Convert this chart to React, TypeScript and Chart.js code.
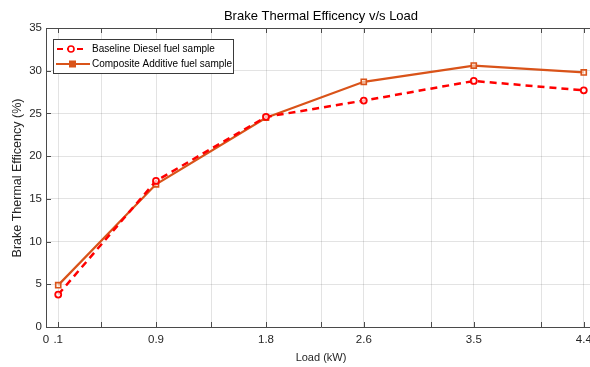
import React, { useEffect, useRef } from "react";
import { Chart, registerables } from "chart.js";

Chart.register(...registerables);

// ---- Data ----
const LOADS = [0.1, 0.9, 1.8, 2.6, 3.5, 4.4];
const BASELINE = [3.8, 17.1, 24.6, 26.5, 28.8, 27.7];
const COMPOSITE = [4.9, 16.7, 24.5, 28.7, 30.6, 29.8];
const X_TICKS = [0, 0.1, 0.45, 0.9, 1.35, 1.8, 2.25, 2.6, 3.15, 3.5, 4.05, 4.4];
const X_TICK_LABELS = ["0", ".1", "", "0.9", "", "1.8", "", "2.6", "", "3.5", "", "4.4"];
const Y_TICKS = [0, 5, 10, 15, 20, 25, 30, 35];
const SERIES_NAMES = ["Baseline Diesel fuel sample", "Composite Additive fuel sample"];
const TITLE = "Brake Thermal Efficency v/s Load";
const X_TITLE = "Load (kW)";
const Y_TITLE = "Brake Thermal Efficency (%)";

const FONT = "'Liberation Sans', Arial, Helvetica, sans-serif";
const AXIS_COLOR = "#4a4a4a";
const TEXT_COLOR = "#262626";
const GRID_COLOR = "rgba(38,38,38,0.13)";
const RED = "#ff0000";
const ORANGE = "#d95319";

const CANVAS_W = 620;

const framePlugin = {
  id: "frame",
  afterDraw(chart: any) {
    const { ctx, chartArea, scales } = chart;
    const { left, top, right, bottom } = chartArea;
    const x = scales.x;
    const y = scales.y;
    ctx.save();
    // top border
    ctx.strokeStyle = AXIS_COLOR;
    ctx.lineWidth = 1;
    ctx.beginPath();
    ctx.moveTo(left, top + 0.5);
    ctx.lineTo(right, top + 0.5);
    ctx.stroke();
    // inward tick marks
    ctx.beginPath();
    X_TICKS.forEach((v) => {
      const px = Math.round(x.getPixelForValue(v)) + 0.5;
      ctx.moveTo(px, bottom);
      ctx.lineTo(px, bottom - 5);
      ctx.moveTo(px, top);
      ctx.lineTo(px, top + 5);
    });
    Y_TICKS.forEach((v) => {
      const py = Math.round(y.getPixelForValue(v)) + 0.5;
      ctx.moveTo(left, py);
      ctx.lineTo(left + 5, py);
    });
    ctx.stroke();

    // legend
    const lx = 53, ly = 39, lw = 180, lh = 34;
    ctx.fillStyle = "#ffffff";
    ctx.fillRect(lx, ly, lw, lh);
    ctx.strokeStyle = "#3a3a3a";
    ctx.lineWidth = 1;
    ctx.strokeRect(lx + 0.5, ly + 0.5, lw, lh);
    const rows = [
      { y: 49, color: RED, dash: [6, 4], marker: "circle", x1: 57, x2: 83 },
      { y: 64, color: ORANGE, dash: [], marker: "rect", x1: 56, x2: 90 },
    ];
    rows.forEach((r, i) => {
      ctx.strokeStyle = r.color;
      ctx.lineWidth = 2;
      ctx.setLineDash(r.dash);
      ctx.beginPath();
      ctx.moveTo(r.x1, r.y);
      ctx.lineTo(r.x2, r.y);
      ctx.stroke();
      ctx.setLineDash([]);
      ctx.lineWidth = 1.6;
      if (r.marker === "circle") {
        ctx.fillStyle = "#fff";
        ctx.beginPath();
        ctx.arc(71, r.y, 3, 0, Math.PI * 2);
        ctx.fill();
        ctx.stroke();
      } else {
        ctx.fillStyle = ORANGE;
        ctx.fillRect(69, r.y - 3.5, 7, 7);
      }
      ctx.fillStyle = "#000";
      ctx.font = `10px ${FONT}`;
      ctx.textAlign = "left";
      ctx.textBaseline = "middle";
      ctx.fillText(SERIES_NAMES[i], 92, r.y);
    });

    // titles
    ctx.fillStyle = "#000";
    ctx.font = `13px ${FONT}`;
    ctx.textAlign = "center";
    ctx.textBaseline = "middle";
    ctx.fillText(TITLE, 321, 16);
    ctx.fillStyle = TEXT_COLOR;
    ctx.font = `11px ${FONT}`;
    ctx.fillText(X_TITLE, 321, 358);
    ctx.save();
    ctx.translate(18, 178);
    ctx.rotate(-Math.PI / 2);
    ctx.font = `12.5px ${FONT}`;
    ctx.fillText(Y_TITLE, 0, 0);
    ctx.restore();
    ctx.restore();
  },
};

export default function App() {
  const ref = useRef<HTMLCanvasElement | null>(null);
  useEffect(() => {
    document.body.style.margin = "0";
    document.body.style.overflow = "hidden";
    const canvas = ref.current!;
    const chart = new Chart(canvas, {
      type: "line",
      data: {
        datasets: [
          {
            label: SERIES_NAMES[0],
            data: LOADS.map((l, i) => ({ x: l, y: BASELINE[i] })),
            borderColor: RED,
            borderWidth: 2.5,
            borderDash: [7, 5],
            pointStyle: "circle",
            pointRadius: 3,
            pointBorderWidth: 1.8,
            pointBorderColor: RED,
            pointBackgroundColor: "rgba(255,255,255,0.7)",
            tension: 0,
            order: 1,
          },
          {
            label: SERIES_NAMES[1],
            data: LOADS.map((l, i) => ({ x: l, y: COMPOSITE[i] })),
            borderColor: ORANGE,
            borderWidth: 2.2,
            pointStyle: "rect",
            pointRadius: 3.6,
            pointBorderWidth: 1.6,
            pointBorderColor: ORANGE,
            pointBackgroundColor: "rgba(255,240,225,0.6)",
            tension: 0,
            order: 2,
          },
        ],
      },
      options: {
        responsive: false,
        animation: false,
        devicePixelRatio: 1,
        layout: { padding: { top: 28, left: 0, right: CANVAS_W - 596, bottom: 0 } },
        plugins: {
          legend: { display: false },
          title: { display: false },
          tooltip: { enabled: false },
        },
        scales: {
          x: {
            type: "linear",
            min: 0,
            max: 4.5,
            afterBuildTicks: (scale: any) => {
              scale.ticks = X_TICKS.map((v) => ({ value: v }));
            },
            afterFit: (scale: any) => {
              scale.height = 40;
            },
            ticks: {
              autoSkip: false,
              maxRotation: 0,
              minRotation: 0,
              padding: 6,
              color: TEXT_COLOR,
              font: { family: FONT, size: 11.5 },
              callback: (v: any) => {
                const idx = X_TICKS.findIndex((t) => Math.abs(t - Number(v)) < 1e-6);
                return idx >= 0 ? X_TICK_LABELS[idx] : "";
              },
            },
            grid: { color: GRID_COLOR, drawTicks: false, lineWidth: 1 },
            border: { display: true, color: AXIS_COLOR, width: 1 },
          },
          y: {
            type: "linear",
            min: 0,
            max: 35,
            afterBuildTicks: (scale: any) => {
              scale.ticks = Y_TICKS.map((v) => ({ value: v }));
            },
            afterFit: (scale: any) => {
              scale.width = 46;
            },
            ticks: {
              padding: 4,
              color: TEXT_COLOR,
              font: { family: FONT, size: 11.5 },
              callback: (v: any) => String(v),
            },
            grid: { color: GRID_COLOR, drawTicks: false, lineWidth: 1 },
            border: { display: true, color: AXIS_COLOR, width: 1 },
          },
        },
      },
      plugins: [framePlugin],
    });
    return () => chart.destroy();
  }, []);
  return (
    <div
      style={{
        position: "fixed",
        left: 0,
        top: 0,
        width: 590,
        height: 367,
        overflow: "hidden",
        background: "#fff",
      }}
    >
      <canvas
        ref={ref}
        width={CANVAS_W}
        height={367}
        style={{ width: CANVAS_W, height: 367, display: "block" }}
      />
    </div>
  );
}
